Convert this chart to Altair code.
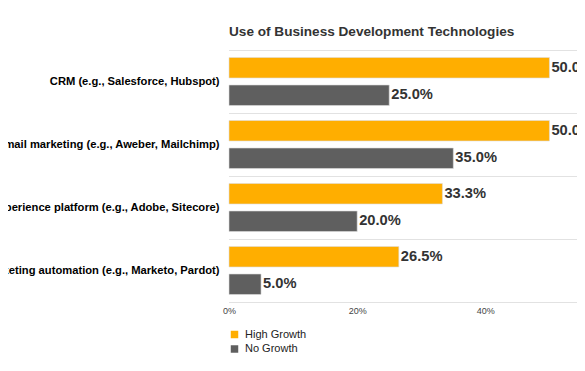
import altair as alt
import pandas as pd

categories = [
    "CRM (e.g., Salesforce, Hubspot)",
    "Email marketing (e.g., Aweber, Mailchimp)",
    "Experience platform (e.g., Adobe, Sitecore)",
    "Marketing automation (e.g., Marketo, Pardot)",
]
series = ["High Growth", "No Growth"]
high_growth = [50.0, 50.0, 33.3, 26.5]
no_growth = [25.0, 35.0, 20.0, 5.0]
x_ticks = [0, 20, 40]
x_max = 54.3
colors = ["#FFAE00", "#5F5F5F"]

rows = []
for c, h, n in zip(categories, high_growth, no_growth):
    rows.append({"category": c, "series": series[0], "value": h})
    rows.append({"category": c, "series": series[1], "value": n})
df = pd.DataFrame(rows)

FONT = "Liberation Sans, Arial, Helvetica, sans-serif"

y_enc = alt.Y(
    "category:N",
    sort=categories,
    title=None,
    scale=alt.Scale(paddingInner=0, paddingOuter=0),
    axis=alt.Axis(
        labelFontWeight="bold",
        labelFontSize=11.2,
        labelColor="#000000",
        labelFont=FONT,
        labelPadding=10,
        labelLimit=400,
        ticks=False,
        domain=False,
        grid=True,
        tickBand="extent",
        gridColor="#c4c4c4",
        gridDash=[1, 1],
        gridWidth=1,
    ),
)
yoff_enc = alt.YOffset(
    "series:N",
    sort=series,
    scale=alt.Scale(domain=series, paddingInner=0.255, paddingOuter=0.273),
)
x_enc = alt.X(
    "value:Q",
    title=None,
    scale=alt.Scale(domain=[0, x_max], nice=False),
    axis=alt.Axis(
        values=x_ticks,
        labelExpr="datum.value + '%'",
        labelFontSize=9,
        labelColor="#444444",
        labelFont=FONT,
        labelPadding=4,
        labelFlush=False,
        ticks=False,
        domain=False,
        grid=False,
    ),
)

bars = alt.Chart(df).mark_bar(stroke="#dddddd", strokeWidth=0.6).encode(
    y=y_enc,
    yOffset=yoff_enc,
    x=x_enc,
    color=alt.Color(
        "series:N",
        scale=alt.Scale(domain=series, range=colors),
        legend=alt.Legend(
            title=None,
            orient="none",
            legendX=0,
            legendY=279,
            symbolType="square",
            symbolSize=56,
            symbolStrokeWidth=0,
            labelFontSize=11,
            labelFont=FONT,
            labelColor="#222222",
            labelOffset=5,
            rowPadding=2.5,
            padding=0,
        ),
    ),
)

labels = alt.Chart(df).transform_calculate(
    label="format(datum.value, '.1f') + '%'"
).mark_text(
    align="left",
    baseline="middle",
    dx=2,
    fontSize=14.7,
    fontWeight="bold",
    font=FONT,
    color="#333333",
).encode(
    y=alt.Y("category:N", sort=categories),
    yOffset=alt.YOffset("series:N", sort=series),
    x=alt.X("value:Q"),
    text="label:N",
)

chart = (
    alt.layer(bars, labels)
    .properties(
        width=348,
        height=252,
        title=alt.TitleParams(
            "Use of Business Development Technologies",
            anchor="start",
            frame="group",
            fontSize=13.6,
            fontWeight="bold",
            font=FONT,
            color="#333333",
            offset=5,
        ),
        autosize=alt.AutoSizeParams(type="none"),
        padding={"left": 221, "top": 42, "right": 0, "bottom": 58},
    )
    .configure_view(stroke=None)
)

chart.save("out.html", embed_options={"renderer": "svg", "actions": False})
